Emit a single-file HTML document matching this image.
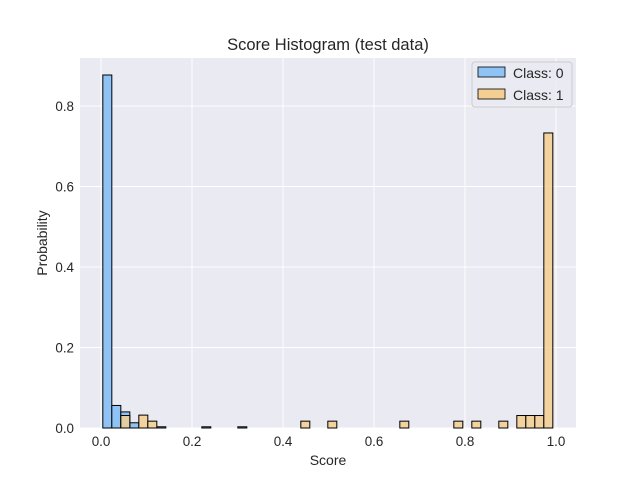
<!DOCTYPE html>
<html><head><meta charset="utf-8"><style>
body{margin:0;background:#fff;font-family:"Liberation Sans","DejaVu Sans",sans-serif;}
</style></head><body>
<svg id="c" width="640" height="480" xmlns="http://www.w3.org/2000/svg">
<rect x="0" y="0" width="640" height="480" fill="#fff"/>
<rect x="80" y="58" width="496" height="370" fill="#eaeaf2"/>
<g id="grid"></g><g id="bars"></g><g id="ticks"></g>
<text x="328" y="50" font-size="16.5" text-anchor="middle" fill="#262626">Score Histogram (test data)</text>
<text x="328" y="465" font-size="14" text-anchor="middle" fill="#262626">Score</text>
<text transform="translate(47,243) rotate(-90)" font-size="14" text-anchor="middle" fill="#262626">Probability</text>
<g>
<rect x="472" y="62" width="100" height="45" rx="3" fill="#eaeaf2" fill-opacity="0.8" stroke="#ccc"/>
<g><rect x="478" y="67" width="27" height="10" fill="#8fc3f5" stroke="#000" stroke-width="0.8"/><text x="513" y="78" font-size="14" fill="#262626">Class: 0</text></g>
<g><rect x="478" y="89" width="27" height="10" fill="#f3cf91" stroke="#000" stroke-width="0.8"/><text x="513" y="100" font-size="14" fill="#262626">Class: 1</text></g>
</g>
</svg>
<script>
const binStart = 0.004;
const binWidth = 0.01978;
const class0Bins = [0,1,2,3,6,11,15];
const class0Values = [0.877,0.056,0.040,0.013,0.003,0.003,0.003];
const class1Bins = [2,4,5,22,25,33,39,41,44,46,47,48,49];
const class1Values = [0.031,0.032,0.017,0.017,0.017,0.017,0.017,0.017,0.017,0.031,0.031,0.031,0.733];
const xTicks = [0,0.2,0.4,0.6,0.8,1.0];
const xTickLabels = ["0.0","0.2","0.4","0.6","0.8","1.0"];
const yTicks = [0,0.2,0.4,0.6,0.8];
const yTickLabels = ["0.0","0.2","0.4","0.6","0.8"];
const NS="http://www.w3.org/2000/svg";
const xs=v=>101+v*455, ys=v=>428-v*402.5;
function mk(t,a,p){const e=document.createElementNS(NS,t);for(const k in a)e.setAttribute(k,a[k]);p.appendChild(e);return e;}
const grid=document.getElementById('grid'),bars=document.getElementById('bars'),ticks=document.getElementById('ticks');
xTicks.forEach((v,i)=>{
  const l=mk('line',{x1:xs(v),x2:xs(v),y1:58,y2:428,stroke:'#fff','stroke-width':1},grid);
  
  
  const t=mk('text',{x:xs(v),y:446,'font-size':13.4,'text-anchor':'middle',fill:'#262626'},ticks);t.textContent=xTickLabels[i];
  
  
});
yTicks.forEach((v,i)=>{
  const l=mk('line',{x1:80,x2:576,y1:ys(v),y2:ys(v),stroke:'#fff','stroke-width':1},grid);
  
  
  const t=mk('text',{x:74,y:ys(v)+5,'font-size':13.4,'text-anchor':'end',fill:'#262626'},ticks);t.textContent=yTickLabels[i];
  
  
});
function draw(bins,vals,fill,op,name){
  bins.forEach((b,i)=>{
    const x0=xs(binStart+b*binWidth),x1=xs(binStart+(b+1)*binWidth);
    const r=mk('rect',{x:x0,y:ys(vals[i]),width:x1-x0,height:428-ys(vals[i]),fill:fill,'fill-opacity':op,stroke:'#000','stroke-width':1},bars);
    
    
  });
}
draw(class0Bins,class0Values,'#8fc3f5',1,'bar-class-0');
draw(class1Bins,class1Values,'#f3cf91',0.85,'bar-class-1');
</script>
</body></html>
